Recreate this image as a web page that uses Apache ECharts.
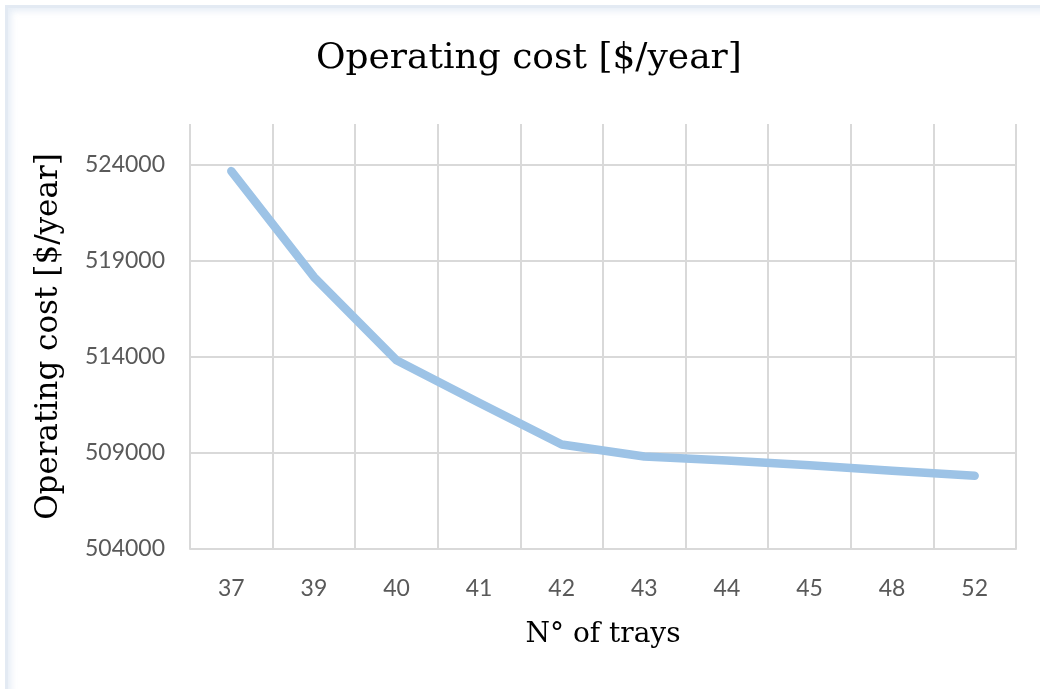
<!DOCTYPE html>
<html>
<head>
<meta charset="utf-8">
<script src="https://cdn.jsdelivr.net/npm/echarts@6/dist/echarts.min.js"></script>
<style>
  html, body { margin: 0; padding: 0; background: #ffffff; }
  #frame {
    position: absolute; left: 5px; top: 5px; width: 1040px; height: 689px;
    border-top: 3px solid #e3eaf3; border-left: 3px solid #e3eaf3;
    box-shadow: inset 3px 3px 6px rgba(200, 215, 235, 0.45);
    box-sizing: border-box;
  }
  #chart { position: absolute; left: 0; top: 0; width: 1040px; height: 689px; }
</style>
</head>
<body>
<div id="frame"></div>
<div id="chart"></div>
<script>
// Number of trays in the column
const trays = ['37', '39', '40', '41', '42', '43', '44', '45', '48', '52'];
// Annual operating cost for each design
const operatingCost = [523650, 518150, 513820, 511600, 509430, 508810, 508600, 508360, 508070, 507810];

const yMin = 504000;
const yStep = 5000;

const serif = '"DejaVu Serif", "Liberation Serif", serif';
const sans = 'Lato, "Open Sans", sans-serif';
const gridColor = '#d9d9d9';

const chart = echarts.init(document.getElementById('chart'), null, { renderer: 'canvas' });
chart.setOption({
  backgroundColor: 'transparent',
  animation: false,
  title: {
    text: 'Operating cost [$/year]',
    left: 311,
    top: 36,
    textStyle: { fontFamily: serif, fontSize: 36, fontWeight: 'normal', color: '#000000' }
  },
  grid: { left: 190, right: 24, top: 124, bottom: 140 },
  xAxis: {
    type: 'category',
    data: trays,
    boundaryGap: true,
    name: 'N° of trays',
    nameLocation: 'middle',
    nameGap: 72,
    nameTextStyle: { fontFamily: serif, fontSize: 28, color: '#000000' },
    axisLine: { show: true, lineStyle: { color: gridColor, width: 2 } },
    axisTick: { show: false },
    axisLabel: { fontFamily: sans, fontSize: 23, color: '#595959', margin: 28 },
    splitLine: { show: true, lineStyle: { color: gridColor, width: 2 } }
  },
  yAxis: {
    type: 'value',
    min: yMin,
    max: 526100,
    interval: yStep,
    name: 'Operating cost [$/year]',
    nameLocation: 'middle',
    nameGap: 126,
    nameTextStyle: { fontFamily: serif, fontSize: 31, color: '#000000' },
    axisLine: { show: false },
    axisTick: { show: false },
    axisLabel: {
      fontFamily: sans, fontSize: 23, color: '#595959', margin: 25,
      formatter: v => ((v - yMin) % yStep === 0 ? String(v) : '')
    },
    splitLine: {
      show: true,
      lineStyle: { color: [gridColor, gridColor, gridColor, gridColor, gridColor, 'rgba(0,0,0,0)'], width: 2 }
    }
  },
  series: [{
    type: 'line',
    data: operatingCost,
    symbol: 'none',
    lineStyle: { color: '#9dc3e6', width: 8.5, cap: 'round', join: 'round' },
    itemStyle: { color: '#9dc3e6' }
  }]
});
</script>
</body>
</html>
